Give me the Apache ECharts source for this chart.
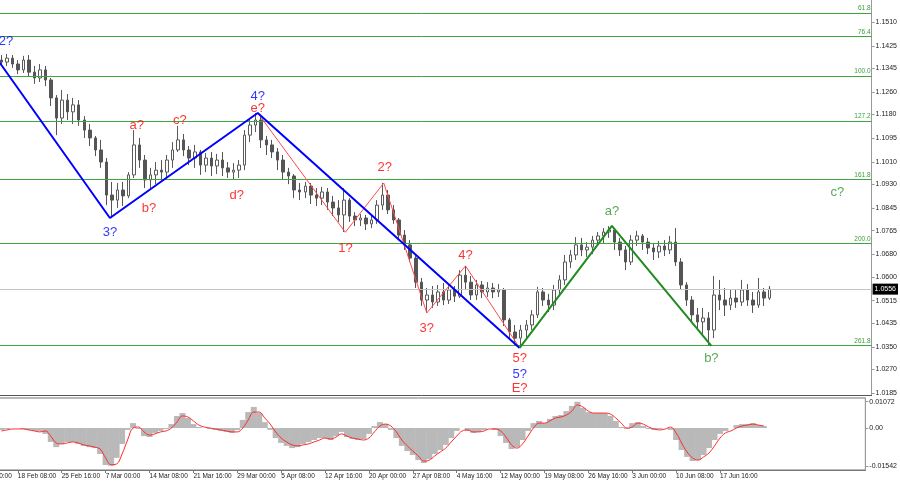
<!DOCTYPE html>
<html><head><meta charset="utf-8">
<script src="https://cdn.jsdelivr.net/npm/echarts@6/dist/echarts.min.js"></script>
<style>html,body{margin:0;padding:0;background:#fff;overflow:hidden;width:900px;height:485px}
#c{width:929px;height:485px;margin-left:-29px}</style>
</head><body><div id="c"></div>
<script>
// ---------- data ----------
const timeLabels = ['11 Feb 00:00','18 Feb 08:00','25 Feb 16:00','7 Mar 00:00','14 Mar 08:00','21 Mar 16:00',
  '29 Mar 00:00','5 Apr 08:00','12 Apr 16:00','20 Apr 00:00','27 Apr 08:00','4 May 16:00','12 May 00:00',
  '19 May 08:00','26 May 16:00','3 Jun 00:00','10 Jun 08:00','17 Jun 16:00'];

// [open, close, low, high]
const candles = [
[1.1374,1.1367,1.1353,1.1392],[1.1367,1.1381,1.1353,1.1396],[1.1381,1.1360,1.1346,1.1392],[1.1360,1.1339,1.1324,1.1374],
[1.1339,1.1374,1.1328,1.1389],[1.1374,1.1331,1.1317,1.1392],[1.1331,1.1310,1.1289,1.1353],[1.1310,1.1339,1.1296,1.1360],
[1.1339,1.1303,1.1281,1.1353],[1.1303,1.1239,1.1210,1.1310],[1.1239,1.1167,1.1106,1.1249],[1.1167,1.1231,1.1146,1.1267],
[1.1231,1.1189,1.1160,1.1253],[1.1189,1.1214,1.1146,1.1239],[1.1214,1.1160,1.1139,1.1231],[1.1160,1.1124,1.1096,1.1174],
[1.1124,1.1096,1.1067,1.1146],[1.1096,1.1053,1.1031,1.1103],[1.1053,1.1010,1.0989,1.1089],[1.1010,1.0892,1.0856,1.1024],
[1.0892,1.0874,1.0810,1.0939],[1.0874,1.0910,1.0846,1.0935],[1.0910,1.0889,1.0853,1.0939],[1.0889,1.0964,1.0881,1.0974],
[1.0964,1.1071,1.0953,1.1124],[1.1071,1.1017,1.0989,1.1096],[1.1017,1.0946,1.0917,1.1035],[1.0946,1.0964,1.0910,1.0989],
[1.0964,1.0981,1.0931,1.1010],[1.0981,1.0974,1.0939,1.1017],[1.0974,1.1017,1.0953,1.1035],[1.1017,1.1053,1.0989,1.1081],
[1.1053,1.1089,1.1046,1.1139],[1.1089,1.1053,1.1031,1.1110],[1.1053,1.1024,1.0999,1.1067],[1.1024,1.1046,1.0989,1.1071],
[1.1046,1.0999,1.0964,1.1053],[1.0999,1.1024,1.0974,1.1042],[1.1024,1.0996,1.0960,1.1046],[1.0996,1.1017,1.0967,1.1039],
[1.1017,1.0989,1.0960,1.1046],[1.0989,1.0974,1.0953,1.1010],[1.0974,1.0981,1.0946,1.1006],[1.0981,1.0999,1.0953,1.1017],
[1.0999,1.1106,1.0981,1.1124],[1.1106,1.1142,1.1081,1.1167],[1.1142,1.1160,1.1117,1.1185],[1.1160,1.1089,1.1060,1.1178],
[1.1089,1.1071,1.1035,1.1103],[1.1071,1.1046,1.1024,1.1089],[1.1046,1.1017,1.0981,1.1060],[1.1017,1.0974,1.0946,1.1035],
[1.0974,1.0960,1.0931,1.0989],[1.0960,1.0910,1.0881,1.0967],[1.0910,1.0903,1.0874,1.0935],[1.0903,1.0924,1.0881,1.0939],
[1.0924,1.0892,1.0860,1.0935],[1.0892,1.0881,1.0853,1.0917],[1.0881,1.0903,1.0856,1.0921],[1.0903,1.0867,1.0839,1.0917],
[1.0867,1.0846,1.0817,1.0889],[1.0846,1.0821,1.0796,1.0874],[1.0821,1.0874,1.0760,1.0917],[1.0874,1.0817,1.0796,1.0881],
[1.0817,1.0803,1.0781,1.0831],[1.0803,1.0810,1.0781,1.0824],[1.0810,1.0789,1.0767,1.0821],[1.0789,1.0803,1.0774,1.0824],
[1.0803,1.0856,1.0789,1.0874],[1.0856,1.0892,1.0839,1.0935],[1.0892,1.0839,1.0824,1.0910],[1.0839,1.0803,1.0789,1.0856],
[1.0803,1.0749,1.0731,1.0810],[1.0749,1.0714,1.0696,1.0767],[1.0714,1.0667,1.0653,1.0731],[1.0667,1.0581,1.0560,1.0678],
[1.0581,1.0517,1.0496,1.0596],[1.0517,1.0535,1.0471,1.0560],[1.0535,1.0510,1.0489,1.0567],[1.0510,1.0546,1.0496,1.0571],
[1.0546,1.0517,1.0499,1.0578],[1.0517,1.0553,1.0503,1.0574],[1.0553,1.0531,1.0510,1.0567],[1.0531,1.0606,1.0524,1.0624],
[1.0606,1.0581,1.0553,1.0639],[1.0581,1.0535,1.0517,1.0603],[1.0535,1.0571,1.0517,1.0589],[1.0571,1.0546,1.0524,1.0585],
[1.0546,1.0560,1.0528,1.0581],[1.0560,1.0546,1.0524,1.0578],[1.0546,1.0553,1.0528,1.0574],[1.0553,1.0446,1.0424,1.0560],
[1.0446,1.0403,1.0381,1.0453],[1.0403,1.0381,1.0353,1.0428],[1.0381,1.0410,1.0346,1.0428],[1.0410,1.0428,1.0381,1.0446],
[1.0428,1.0464,1.0410,1.0481],[1.0464,1.0546,1.0453,1.0564],[1.0546,1.0517,1.0496,1.0560],[1.0517,1.0499,1.0474,1.0539],
[1.0499,1.0553,1.0481,1.0571],[1.0553,1.0589,1.0531,1.0606],[1.0589,1.0653,1.0571,1.0678],[1.0653,1.0678,1.0631,1.0696],
[1.0678,1.0714,1.0660,1.0742],[1.0714,1.0696,1.0674,1.0739],[1.0696,1.0706,1.0671,1.0724],[1.0706,1.0731,1.0681,1.0746],
[1.0731,1.0746,1.0710,1.0760],[1.0746,1.0760,1.0717,1.0774],[1.0760,1.0767,1.0739,1.0781],[1.0767,1.0724,1.0696,1.0774],
[1.0724,1.0696,1.0674,1.0739],[1.0696,1.0653,1.0624,1.0710],[1.0653,1.0731,1.0642,1.0749],[1.0731,1.0746,1.0710,1.0764],
[1.0746,1.0724,1.0696,1.0753],[1.0724,1.0703,1.0681,1.0739],[1.0703,1.0689,1.0660,1.0721],[1.0689,1.0710,1.0667,1.0728],
[1.0710,1.0696,1.0674,1.0731],[1.0696,1.0724,1.0681,1.0746],[1.0724,1.0653,1.0639,1.0774],[1.0653,1.0571,1.0553,1.0667],
[1.0571,1.0517,1.0496,1.0581],[1.0517,1.0464,1.0439,1.0531],[1.0464,1.0439,1.0410,1.0489],[1.0439,1.0453,1.0396,1.0489],
[1.0453,1.0410,1.0353,1.0474],[1.0410,1.0535,1.0381,1.0603],[1.0535,1.0517,1.0481,1.0589],[1.0517,1.0499,1.0460,1.0560],
[1.0499,1.0524,1.0481,1.0553],[1.0524,1.0510,1.0489,1.0553],[1.0510,1.0553,1.0496,1.0589],[1.0553,1.0517,1.0496,1.0574],
[1.0517,1.0499,1.0471,1.0546],[1.0499,1.0546,1.0489,1.0596],[1.0546,1.0524,1.0496,1.0560],[1.0524,1.0556,1.0517,1.0567]
];

const histogram = [
-0.0008,-0.0004,0,0,-0.0004,-0.0008,-0.0012,-0.0012,-0.0024,-0.0057,
-0.0078,-0.0065,-0.0057,-0.0057,-0.0065,-0.0073,-0.0078,-0.0082,-0.0106,-0.0151,
-0.01542,-0.0122,-0.0065,-0.0008,0.0020,-0.0004,-0.0033,-0.0037,-0.0020,-0.0012,
-0.0004,0.0016,0.0049,0.0061,0.0041,0.0016,0.0004,0,-0.0004,-0.0008,
-0.0012,-0.0016,-0.0020,-0.0008,0.0033,0.0065,0.0086,0.0061,0.0024,-0.0008,
-0.0041,-0.0061,-0.0073,-0.0082,-0.0078,-0.0065,-0.0057,-0.0049,-0.0041,-0.0041,
-0.0049,-0.0033,-0.0016,-0.0037,-0.0045,-0.0049,-0.0045,-0.0024,0.0008,0.0024,
0.0016,-0.0008,-0.0041,-0.0073,-0.0094,-0.0110,-0.0131,-0.0143,-0.0127,-0.0106,
-0.0090,-0.0069,-0.0041,-0.0012,0,-0.0012,-0.0020,-0.0016,-0.0008,0,
-0.0008,-0.0033,-0.0061,-0.0086,-0.0078,-0.0049,-0.0012,0.0020,0.0029,0.0020,
0.0037,0.0049,0.0053,0.0069,0.0090,0.01072,0.0082,0.0065,0.0061,0.0061,
0.0061,0.0049,0.0029,0.0004,-0.0004,0.0020,0.0024,0.0008,-0.0004,-0.0008,
-0.0004,0,-0.0008,-0.0049,-0.0090,-0.0118,-0.0135,-0.0131,-0.0110,-0.0082,
-0.0049,-0.0024,-0.0012,0,0.0012,0.0016,0.0016,0.0020,0.0012,0.0008];

const signal = [
-0.0012,-0.0008,-0.0004,-0.0004,-0.0004,-0.0008,-0.0012,-0.0016,-0.0012,-0.0033,
-0.0061,-0.0065,-0.0061,-0.0057,-0.0061,-0.0069,-0.0073,-0.0078,-0.0086,-0.0122,
-0.0150,-0.0147,-0.0106,-0.0049,0,0.0004,-0.0016,-0.0029,-0.0024,-0.0016,
-0.0012,0,0.0024,0.0049,0.0045,0.0029,0.0012,0.0004,0,-0.0004,
-0.0008,-0.0012,-0.0016,-0.0016,0,0.0033,0.0065,0.0065,0.0041,0.0016,
-0.0016,-0.0041,-0.0057,-0.0069,-0.0073,-0.0069,-0.0065,-0.0057,-0.0049,-0.0041,
-0.0045,-0.0037,-0.0024,-0.0033,-0.0041,-0.0045,-0.0049,-0.0041,-0.0016,0.0008,
0.0016,0.0008,-0.0016,-0.0049,-0.0073,-0.0094,-0.0114,-0.0135,-0.0131,-0.0114,
-0.0098,-0.0082,-0.0057,-0.0033,-0.0012,-0.0008,-0.0016,-0.0016,-0.0012,-0.0004,
-0.0004,-0.0012,-0.0037,-0.0069,-0.0082,-0.0065,-0.0033,0,0.0020,0.0020,
0.0029,0.0041,0.0045,0.0053,0.0069,0.0094,0.0086,0.0069,0.0061,0.0061,
0.0061,0.0057,0.0041,0.0020,0,0.0004,0.0020,0.0016,0.0004,-0.0004,
-0.0008,-0.0004,0.0004,-0.0020,-0.0061,-0.0098,-0.0122,-0.0131,-0.0118,-0.0102,
-0.0073,-0.0041,-0.0020,-0.0012,0,0.0008,0.0012,0.0016,0.0012,0.0008];

const priceTicks = [1.0185,1.0270,1.0350,1.0435,1.0515,1.0600,1.0680,1.0765,1.0845,1.0930,
  1.1010,1.1095,1.1180,1.1260,1.1345,1.1425,1.1510];
const indTicks = [-0.01542, 0, 0.01072];
const indTickLabels = ['-0.01542', '0.00', '0.01072'];

const fibLabels = ['61.8','76.4','100.0','127.2','161.8','200.0','261.8'];
const fibPrices = [1.1543,1.1458,1.1317,1.1157,1.0948,1.0720,1.0354];
const currentPrice = 1.0556;

// wave pivots: [bar index, price]
const blueWave  = [[-1,1.1384],[19.64,1.0810],[46.4,1.1185],[93.8,1.0346]];
const redWave   = [[46.4,1.1185],[62.25,1.0759],[69.2,1.0935],[77.0,1.0471],[84.0,1.0639],[93.8,1.0346]];
const greenWave = [[93.8,1.0346],[110.5,1.0782],[128.5,1.0353]];

// wave labels: [bar index, price, text]
const blueLabels  = [[0.83,1.1439,'2?'],[19.64,1.0760,'3?'],[46.4,1.1246,'4?'],[93.8,1.0253,'5?']];
const redLabels   = [[24.5,1.1142,'a?'],[26.7,1.0846,'b?'],[32.3,1.1160,'c?'],[42.6,1.0889,'d?'],
  [46.4,1.1203,'e?'],[62.3,1.0703,'1?'],[69.4,1.0989,'2?'],[77.0,1.0417,'3?'],[84.0,1.0678,'4?'],
  [93.8,1.0307,'5?'],[93.8,1.0200,'E?']];
const greenLabels = [[110.5,1.0832,'a?'],[128.5,1.0310,'b?'],[151.3,1.0903,'c?']];

// ---------- layout ----------
const OFF = 5;        // empty slots before first bar (hosts the first, clipped date tick)
const TOTAL = 163;    // slots on the time axis
const TICK_EVERY = 8;
const FONT = 'Liberation Sans, Arial, sans-serif';

const categories = Array.from({length: TOTAL}, (_, c) =>
  (c % TICK_EVERY === 0 && timeLabels[c / TICK_EVERY]) ? timeLabels[c / TICK_EVERY] : '');
const hasLabel = (i, v) => v !== '';

const labelSeries = (arr, color) => ({
  type: 'scatter', xAxisIndex: 2, yAxisIndex: 0, symbolSize: 0.1, z: 10,
  itemStyle: {color: 'transparent'},
  label: {show: true, position: 'inside', formatter: p => p.value[2], color: color,
          fontSize: 13, fontFamily: FONT},
  data: arr
});
const waveLine = (arr, color, w) => ({
  type: 'line', xAxisIndex: 2, yAxisIndex: 0, data: arr, symbol: 'none', z: 5,
  lineStyle: {color: color, width: w}
});

const fibColor = '#3fa63f';

const chart = echarts.init(document.getElementById('c'));
chart.setOption({
  animation: false,
  backgroundColor: '#ffffff',
  textStyle: {fontFamily: FONT},
  grid: [
    {left: 0, right: 28, top: 0, height: 395},
    {left: 0, right: 28, top: 398, height: 72, show: true, borderColor: '#777', borderWidth: 1}
  ],
  xAxis: [
    {type: 'category', gridIndex: 0, data: categories,
     axisLine: {show: true, onZero: false, lineStyle: {color: '#555'}}, axisTick: {show: false},
     axisLabel: {show: false}, splitLine: {show: false}},
    {type: 'category', gridIndex: 1, data: categories,
     axisLine: {show: true, onZero: false, lineStyle: {color: '#777'}},
     axisTick: {show: true, alignWithLabel: true, interval: hasLabel, length: 3, lineStyle: {color: '#777'}},
     axisLabel: {interval: hasLabel, align: 'left', fontSize: 6.5, color: '#222', margin: 3, fontFamily: FONT},
     splitLine: {show: false}},
    {type: 'value', gridIndex: 0, min: -OFF - 0.5, max: TOTAL - OFF - 0.5, show: false}
  ],
  yAxis: [
    {type: 'value', gridIndex: 0, position: 'right', min: 1.01779, max: 1.15886,
     axisLine: {show: true, onZero: false, lineStyle: {color: '#999'}},
     axisTick: {show: true, customValues: priceTicks, length: 3, lineStyle: {color: '#999'}},
     axisLabel: {customValues: priceTicks, formatter: v => v.toFixed(4), fontSize: 7, color: '#222',
                 margin: 4, fontFamily: FONT},
     splitLine: {show: false}},
    {type: 'value', gridIndex: 1, position: 'right', min: -0.017143, max: 0.012245,
     axisLine: {show: true, onZero: false, lineStyle: {color: '#999'}},
     axisTick: {show: true, customValues: indTicks, length: 3, lineStyle: {color: '#999'}},
     axisLabel: {customValues: indTicks, fontSize: 7, color: '#222', margin: 4, fontFamily: FONT,
       formatter: v => {
         let k = 0, best = Infinity;
         indTicks.forEach((t, j) => { const d = Math.abs(t - v); if (d < best) { best = d; k = j; } });
         return indTickLabels[k];
       }},
     splitLine: {show: false}}
  ],
  series: [
    {
      type: 'line', xAxisIndex: 2, yAxisIndex: 0, data: [], symbol: 'none', z: 1,
      markLine: {
        silent: true, symbol: 'none', animation: false, precision: 5,
        lineStyle: {color: fibColor, width: 1, type: 'solid'},
        data: fibPrices.map((p, k) => ({
          yAxis: p, lineStyle: {color: fibColor, width: 1, type: 'solid'},
          label: {show: true, formatter: fibLabels[k], position: 'insideEndTop', color: '#3c9c3c',
                  fontSize: 6.5, distance: 1, fontFamily: FONT}
        })).concat([
          {yAxis: currentPrice, lineStyle: {color: '#c4c4c4', width: 1, type: 'solid'},
           label: {show: true, position: 'end', formatter: currentPrice.toFixed(4), backgroundColor: '#000',
                   color: '#fff', fontSize: 7, padding: [2, 2], distance: 1, fontFamily: FONT}}
        ])
      }
    },
    {
      type: 'candlestick', xAxisIndex: 0, yAxisIndex: 0, barWidth: 3, z: 2,
      dimensions: ['x', 'open', 'close', 'low', 'high'],
      encode: {x: 0, y: [1, 2, 3, 4]},
      data: candles.map((d, i) => [i + OFF, d[0], d[1], d[2], d[3]]),
      itemStyle: {color: '#ffffff', color0: '#555555', borderColor: '#5a5a5a', borderColor0: '#555555', borderWidth: 1}
    },
    waveLine(redWave, '#ff4a4a', 1),
    waveLine(blueWave, '#0000ff', 2),
    waveLine(greenWave, '#1e8c1e', 2),
    labelSeries(blueLabels, '#0000ff'),
    labelSeries(redLabels, '#ff0000'),
    labelSeries(greenLabels, '#2a922a'),
    {
      type: 'bar', xAxisIndex: 1, yAxisIndex: 1, barWidth: 6,
      data: histogram.map((v, i) => [i + OFF, v]),
      itemStyle: {color: '#b9b9b9'}
    },
    {
      type: 'line', xAxisIndex: 1, yAxisIndex: 1, symbol: 'none', smooth: 0.4,
      data: signal.map((v, i) => [i + OFF, v]),
      lineStyle: {color: '#ff2a2a', width: 1}
    }
  ]
});
</script>
</body></html>
